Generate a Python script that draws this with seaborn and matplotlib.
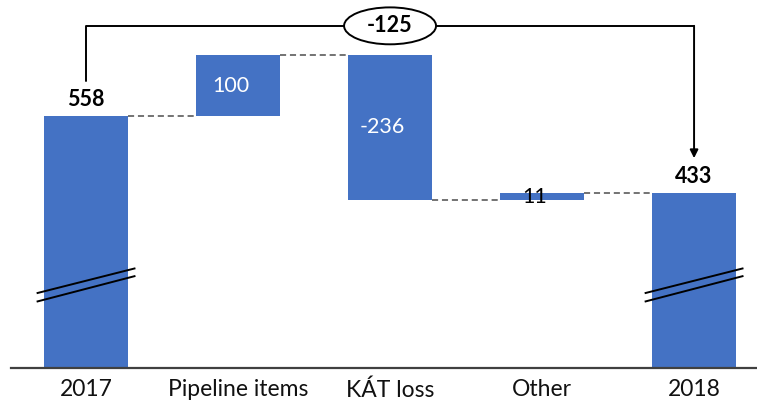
import matplotlib
matplotlib.use("Agg")
import matplotlib.pyplot as plt
import pandas as pd
import seaborn as sns
from matplotlib.patches import Ellipse

# Bridge from 2017 to 2018
categories = ["2017", "Pipeline items", "KÁT loss", "Other", "2018"]
values = [558, 100, -236, 11, 433]
is_total = [True, False, False, False, True]

# Floating bar extents built from the running level
bottoms, tops, levels = [], [], []
level = 0
for v, tot in zip(values, is_total):
    if tot:
        bottoms.append(0)
        tops.append(v)
        level = v
    else:
        new = level + v
        bottoms.append(min(level, new))
        tops.append(max(level, new))
        level = new
    levels.append(level)
heights = [t - b for t, b in zip(tops, bottoms)]
net_change = values[-1] - values[0]

df = pd.DataFrame({"category": categories, "height": heights})

sns.set_theme(style="white")
plt.rcParams["font.family"] = ["Lato", "DejaVu Sans"]

BLUE = "#4472C4"
BAR_W = 0.553

fig = plt.figure(figsize=(7.57, 4.01), dpi=100)
ax = fig.add_axes([0, 33 / 401, 1, 368 / 401])

sns.barplot(data=df, x="category", y="height", bottom=bottoms, color=BLUE,
            saturation=1, width=BAR_W, linewidth=0, ax=ax, zorder=2)

ax.set_xlim(-0.566, 4.414)
ax.set_ylim(149, 747)

# dashed connectors between consecutive bars
for i in range(len(categories) - 1):
    ax.plot([i + BAR_W / 2, i + 1 - BAR_W / 2], [levels[i], levels[i]],
            color="#4d4d4d", lw=1.1, linestyle=(0, (4, 2.5)), zorder=1)

# value labels
for i, (v, tot) in enumerate(zip(values, is_total)):
    if tot:
        ax.annotate(f"{v}", xy=(i, tops[i]), xytext=(0, 12), textcoords="offset points",
                    ha="center", va="center", fontsize=15.5, fontweight="bold", color="black")
    else:
        mid = (tops[i] + bottoms[i]) / 2
        col = "white" if heights[i] > 50 else "black"
        ax.text(i - 0.05, mid, f"{v}", ha="center", va="center", fontsize=15.5,
                color=col, zorder=4)

# axis break marks on the total bars
for i, tot in enumerate(is_total):
    if tot:
        for y0, y1 in [(270.5, 311.1), (256.8, 298.6)]:
            ax.plot([i - 0.325, i + 0.325], [y0, y1], color="black", lw=1.4, zorder=3,
                    solid_capstyle="butt")

# net change bracket
last = len(categories) - 1
top_y = 705
ax.plot([0, 0, last], [values[0] + 58, top_y, top_y], color="black", lw=1.4, zorder=3)
ax.annotate("", xy=(last, values[-1] + 57), xytext=(last, top_y),
            arrowprops=dict(arrowstyle="-|>", color="black", lw=1.4, mutation_scale=12,
                            shrinkA=0, shrinkB=0), zorder=3)
ax.add_patch(Ellipse((2, top_y), width=0.605, height=60, facecolor="white",
                     edgecolor="black", lw=1.4, zorder=4))
ax.text(2, top_y, f"{net_change}", ha="center", va="center", fontsize=15.5,
        fontweight="bold", color="black", zorder=5)

# axes styling
for side in ["left", "right", "top"]:
    ax.spines[side].set_visible(False)
ax.spines["bottom"].set_color("#404040")
ax.spines["bottom"].set_linewidth(1.6)
ax.spines["bottom"].set_bounds(-0.493, 4.414)
ax.set_yticks([])
ax.set_xlabel("")
ax.set_ylabel("")
ax.tick_params(axis="x", length=0, pad=8, labelsize=16.5, labelcolor="#111111")

fig.savefig("out.png", dpi=100)
